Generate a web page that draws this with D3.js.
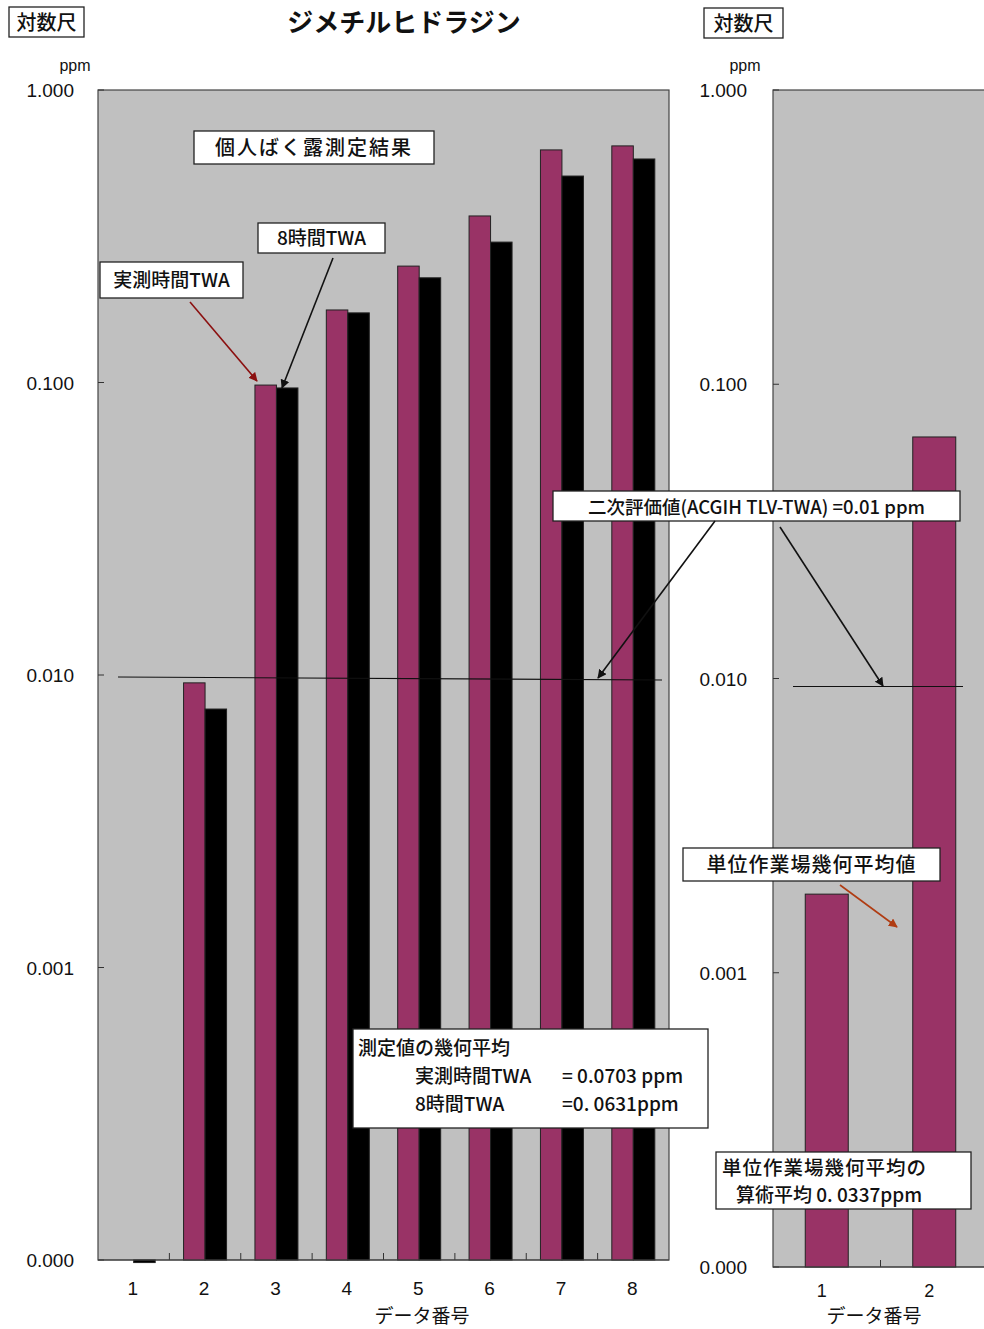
<!DOCTYPE html>
<html lang="ja">
<head>
<meta charset="utf-8">
<script src="https://cdn.jsdelivr.net/npm/d3@7"></script>
<style>
  body { margin: 0; background: #fff; }
  svg { display: block; }
  .jp { font-family: "Noto Sans CJK JP", "Noto Sans", sans-serif; }
  .num { font-family: "Liberation Sans", Arial, sans-serif; }
</style>
</head>
<body>
<svg id="chart" width="984" height="1329"></svg>
<script>
// データ
const categories = ["1", "2", "3", "4", "5", "6", "7", "8"];
const measuredTWA = [null, 0.0094, 0.098, 0.177, 0.25, 0.371, 0.624, 0.644];   // 実測時間TWA
const eightHourTWA = [0.000098, 0.00765, 0.0958, 0.173, 0.228, 0.302, 0.508, 0.581]; // 8時間TWA
const unitCategories = ["1", "2"];
const unitGeoMean = [0.00185, 0.0662];  // 単位作業場幾何平均値
const yTicks = [1, 0.1, 0.01, 0.001, 0.0001];
const threshold = 0.01;

const magenta = "#993366";
const plotBg = "#c0c0c0";

const svg = d3.select("#chart");
const fmt = d3.format(".3f");

// 左のパネル
const L = { left: 98, right: 669, top: 90, bottom: 1260 };
const yL = d3.scaleLog().domain([0.0001, 1]).range([L.bottom, L.top]);
const xL = d3.scaleBand().domain(categories).range([L.left, L.right]);
const pairW = 43;
const xSub = d3.scaleBand().domain(["m", "e"]).range([0, pairW]);

// 右のパネル
const R = { left: 773, right: 988, top: 90, bottom: 1267 };
const yR = d3.scaleLog().domain([0.0001, 1]).range([R.bottom, R.top]);
const xR = d3.scaleBand().domain(unitCategories).range([R.left, R.right]);

// arrow markers
const defs = svg.append("defs");
function marker(id, color) {
    defs.append("marker")
        .attr("id", id)
        .attr("viewBox", "0 0 10 10")
        .attr("refX", 9).attr("refY", 5)
        .attr("markerWidth", 9).attr("markerHeight", 9)
        .attr("markerUnits", "userSpaceOnUse")
        .attr("orient", "auto")
        .append("path").attr("d", "M0,0 L10,5 L0,10 z").attr("fill", color);
}
marker("arBlack", "#111");
marker("arRed", "#8b1010");
marker("arBrown", "#b03c12");

function barRect(g, x, w, v, y, color) {
    if (v == null) return;
    const base = y(0.0001), top = y(v);
    g.append("rect")
        .attr("x", x).attr("width", w)
        .attr("y", Math.min(base, top))
        .attr("height", Math.max(Math.abs(base - top), 1.5))
        .attr("fill", color)
        .attr("stroke", "#222").attr("stroke-width", 1);
}

function drawPanel(P, x, y, ppmX, labelX) {
    const g = svg.append("g");
    g.append("rect")
        .attr("x", P.left).attr("y", P.top)
        .attr("width", P.right - P.left).attr("height", P.bottom - P.top)
        .attr("fill", plotBg).attr("stroke", "#444").attr("stroke-width", 1.2);

    // y ticks (inside) + labels
    yTicks.forEach(t => {
        g.append("line")
            .attr("x1", P.left).attr("x2", P.left + 6)
            .attr("y1", y(t)).attr("y2", y(t))
            .attr("stroke", "#333");
        svg.append("text").attr("class", "num")
            .attr("x", labelX).attr("y", y(t) + 7)
            .attr("text-anchor", "end")
            .attr("font-size", 19).attr("fill", "#111")
            .text(fmt(t));
    });
    svg.append("text").attr("class", "num")
        .attr("x", ppmX).attr("y", 71)
        .attr("text-anchor", "middle")
        .attr("font-size", 16).attr("fill", "#111")
        .text("ppm");

    // x ticks at band boundaries
    x.domain().slice(1).forEach(c => {
        g.append("line")
            .attr("x1", x(c)).attr("x2", x(c))
            .attr("y1", P.bottom).attr("y2", P.bottom - 7)
            .attr("stroke", "#333");
    });
    return g;
}

const gL = drawPanel(L, xL, yL, 75, 74);
const gR = drawPanel(R, xR, yR, 745, 747);

// 左: bars
categories.forEach((c, i) => {
    const x0 = xL(c) + (xL.bandwidth() - pairW) / 2;
    barRect(gL, x0 + xSub("m"), xSub.bandwidth(), measuredTWA[i], yL, magenta);
    barRect(gL, x0 + xSub("e"), xSub.bandwidth(), eightHourTWA[i], yL, "#000");
});

// 右: bars
unitCategories.forEach((c, i) => {
    const x0 = xR(c) + (xR.bandwidth() - pairW) / 2;
    barRect(gR, x0, pairW, unitGeoMean[i], yR, magenta);
});

// re-draw bottom borders on top of bars
[[L, gL], [R, gR]].forEach(([P, g]) => {
    g.append("line").attr("x1", P.left).attr("x2", P.right)
        .attr("y1", P.bottom).attr("y2", P.bottom).attr("stroke", "#444").attr("stroke-width", 1.2);
});

// 二次評価値 lines
svg.append("line").attr("x1", 118).attr("x2", 662)
    .attr("y1", yL(threshold) + 2).attr("y2", yL(threshold) + 5)
    .attr("stroke", "#111").attr("stroke-width", 1.2);
svg.append("line").attr("x1", 793).attr("x2", 963)
    .attr("y1", yR(threshold) + 8).attr("y2", yR(threshold) + 8)
    .attr("stroke", "#111").attr("stroke-width", 1.2);

// x labels
categories.forEach(c => {
    svg.append("text").attr("class", "num")
        .attr("x", xL(c) + xL.bandwidth() / 2 - 1).attr("y", 1295)
        .attr("text-anchor", "middle")
        .attr("font-size", 19).attr("fill", "#111")
        .attr("font-family", "'Liberation Sans Narrow', 'Liberation Sans', sans-serif")
        .text(c);
});
unitCategories.forEach(c => {
    svg.append("text").attr("class", "num")
        .attr("x", xR(c) + xR.bandwidth() / 2 - 5).attr("y", 1297)
        .attr("text-anchor", "middle")
        .attr("font-size", 18).attr("fill", "#111")
        .attr("font-family", "'Liberation Sans Narrow', 'Liberation Sans', sans-serif")
        .text(c);
});
svg.append("text").attr("class", "jp")
    .attr("x", 422).attr("y", 1323).attr("text-anchor", "middle")
    .attr("font-size", 19).attr("fill", "#111").text("データ番号");
svg.append("text").attr("class", "jp")
    .attr("x", 874).attr("y", 1323).attr("text-anchor", "middle")
    .attr("font-size", 19).attr("fill", "#111").text("データ番号");

// title
svg.append("text").attr("class", "jp")
    .attr("x", 404).attr("y", 32).attr("text-anchor", "middle")
    .attr("font-size", 26).attr("font-weight", "bold").attr("fill", "#111")
    .text("ジメチルヒドラジン");

// text boxes
function box(x, y, w, h, lines, opts = {}) {
    svg.append("rect").attr("x", x).attr("y", y).attr("width", w).attr("height", h)
        .attr("fill", "#fff").attr("stroke", "#222").attr("stroke-width", 1.3);
    lines.forEach(l => {
        svg.append("text").attr("class", "jp")
            .attr("x", l.x).attr("y", l.y)
            .attr("text-anchor", l.anchor || "start")
            .attr("font-size", l.size || opts.size || 19)
            .attr("font-weight", 500)
            .attr("letter-spacing", l.ls || 0)
            .attr("fill", "#111")
            .text(l.t);
    });
}

box(9, 7, 75, 30, [{ t: "対数尺", x: 46.5, y: 30, anchor: "middle", size: 20 }]);
box(704, 8, 79, 30, [{ t: "対数尺", x: 743.5, y: 31, anchor: "middle", size: 20 }]);
box(194, 131, 240, 33, [{ t: "個人ばく露測定結果", x: 314, y: 155, anchor: "middle", size: 20, ls: 2 }]);
box(258, 223, 127, 30, [{ t: "8時間TWA", x: 321.5, y: 245, anchor: "middle", size: 19 }]);
box(100, 262, 143, 36, [{ t: "実測時間TWA", x: 171.5, y: 287, anchor: "middle", size: 19 }]);
box(553, 491, 407, 30, [{ t: "二次評価値(ACGIH TLV-TWA) =0.01 ppm", x: 756.5, y: 514, anchor: "middle", size: 18.5 }]);
box(353, 1029, 355, 99, [
    { t: "測定値の幾何平均", x: 358, y: 1055, size: 19 },
    { t: "実測時間TWA", x: 415, y: 1083, size: 19 },
    { t: "= 0.0703 ppm", x: 562, y: 1083, size: 19 },
    { t: "8時間TWA", x: 415, y: 1111, size: 19 },
    { t: "=0. 0631ppm", x: 562, y: 1111, size: 19 }
]);
box(683, 848, 257, 33, [{ t: "単位作業場幾何平均値", x: 811.5, y: 872, anchor: "middle", size: 20, ls: 1 }]);
box(716, 1152, 255, 57, [
    { t: "単位作業場幾何平均の", x: 722, y: 1175, size: 19.5, ls: 1 },
    { t: "算術平均 0. 0337ppm", x: 736, y: 1202, size: 19 }
]);

// arrows
function arrow(x1, y1, x2, y2, color, m) {
    svg.append("line").attr("x1", x1).attr("y1", y1).attr("x2", x2).attr("y2", y2)
        .attr("stroke", color).attr("stroke-width", 1.6)
        .attr("marker-end", `url(#${m})`);
}
arrow(190, 302, 257, 381, "#8b1010", "arRed");
arrow(333, 258, 282, 388, "#111", "arBlack");
arrow(715, 521, 598, 678, "#111", "arBlack");
arrow(780, 527, 883, 686, "#111", "arBlack");
arrow(840, 885, 897, 927, "#b03c12", "arBrown");
</script>
</body>
</html>
